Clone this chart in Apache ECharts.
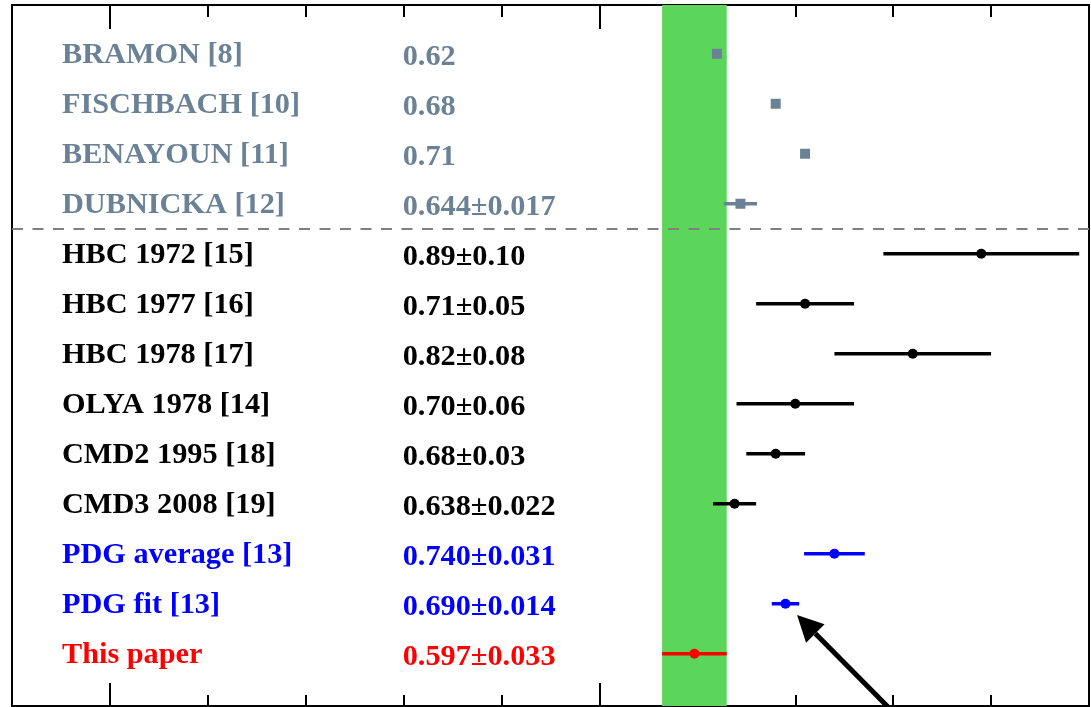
<!DOCTYPE html>
<html>
<head>
<meta charset="utf-8">
<script src="https://cdn.jsdelivr.net/npm/echarts@6/dist/echarts.min.js"></script>
<style>html,body{margin:0;padding:0;background:#fff;}#c{width:1091px;height:707px;}</style>
</head>
<body>
<div id="c"></div>
<script>
// ---- data ----
const names = ['BRAMON [8]', 'FISCHBACH [10]', 'BENAYOUN [11]', 'DUBNICKA [12]',
  'HBC 1972 [15]', 'HBC 1977 [16]', 'HBC 1978 [17]', 'OLYA 1978 [14]',
  'CMD2 1995 [18]', 'CMD3 2008 [19]', 'PDG average [13]', 'PDG fit [13]', 'This paper'];
const values = [0.62, 0.68, 0.71, 0.644, 0.89, 0.71, 0.82, 0.70, 0.68, 0.638, 0.740, 0.690, 0.597];
const errors = [0, 0, 0, 0.017, 0.10, 0.05, 0.08, 0.06, 0.03, 0.022, 0.031, 0.014, 0.033];
const valueLabels = ['0.62', '0.68', '0.71', '0.644\u00b10.017', '0.89\u00b10.10', '0.71\u00b10.05',
  '0.82\u00b10.08', '0.70\u00b10.06', '0.68\u00b10.03', '0.638\u00b10.022', '0.740\u00b10.031',
  '0.690\u00b10.014', '0.597\u00b10.033'];
const groups = ['model', 'model', 'model', 'model', 'exp', 'exp', 'exp', 'exp', 'exp', 'exp', 'pdg', 'pdg', 'this'];
const bandCenter = 0.597, bandHalfWidth = 0.033;
const separatorRow = 3.5;
const xTicksMajor = [0, 0.5];

// ---- styles ----
const groupColor = { model: '#6b8296', exp: '#000000', pdg: '#0000ff', this: '#ff0000' };
const groupSymbol = { model: 'rect', exp: 'circle', pdg: 'circle', this: 'circle' };
const FONT = 'Liberation Serif, Times New Roman, serif';
const labelColX = -0.049, valueColX = 0.299;
const arrowFrom = [0.795, 13.07], arrowTo = [0.7018, 11.225];

const rows = names.map((n, i) => i);

const chart = echarts.init(document.getElementById('c'), null, { renderer: 'canvas' });

const xBase = { type: 'value', min: -0.1, max: 1.0, interval: 0.1, axisLabel: { show: false }, splitLine: { show: false },
  axisLine: { show: true, onZero: false, lineStyle: { color: '#000', width: 2 } } };

const scatterSeries = ['model', 'exp', 'pdg', 'this'].map(g => ({
  type: 'scatter', name: g, xAxisIndex: 0, yAxisIndex: 0, z: 5,
  symbol: groupSymbol[g], symbolSize: g === 'model' ? 10 : 10,
  itemStyle: { color: groupColor[g], opacity: 1 },
  data: rows.filter(i => groups[i] === g).map(i => [values[i], i])
}));

chart.setOption({
  animation: false,
  grid: { left: 12, right: 2, top: 5, bottom: 1, containLabel: false },
  xAxis: [
    Object.assign({}, xBase, { position: 'bottom', axisTick: { show: true, inside: true, length: 11, lineStyle: { color: '#000', width: 2 } } }),
    Object.assign({}, xBase, { position: 'top', axisTick: { show: true, inside: true, length: 12, lineStyle: { color: '#000', width: 2 } } }),
    Object.assign({}, xBase, { position: 'bottom', axisTick: { show: true, inside: true, length: 23, customValues: xTicksMajor, lineStyle: { color: '#000', width: 2 } } }),
    Object.assign({}, xBase, { position: 'top', axisTick: { show: true, inside: true, length: 24, customValues: xTicksMajor, lineStyle: { color: '#000', width: 2 } } })
  ],
  yAxis: [
    { type: 'value', inverse: true, min: -0.975, max: 13.045, position: 'left', axisLabel: { show: false }, axisTick: { show: false }, splitLine: { show: false },
      axisLine: { show: true, onZero: false, lineStyle: { color: '#000', width: 2 } } },
    { type: 'value', inverse: true, min: -0.975, max: 13.045, position: 'right', axisLabel: { show: false }, axisTick: { show: false }, splitLine: { show: false },
      axisLine: { show: true, onZero: false, lineStyle: { color: '#000', width: 2 } } }
  ],
  series: [
    {
      type: 'line', data: [], xAxisIndex: 0, yAxisIndex: 0, z: 1,
      markArea: { silent: true, itemStyle: { color: '#5cd65a', opacity: 1 },
        data: [[{ xAxis: bandCenter - bandHalfWidth, yAxis: -0.975 }, { xAxis: bandCenter + bandHalfWidth, yAxis: 13.045 }]] },
      markLine: { silent: true, symbol: 'none', label: { show: false },
        lineStyle: { color: '#808080', width: 2, type: [11, 9.5] },
        data: [{ yAxis: separatorRow }] }
    },
    {
      type: 'custom', name: 'errorbars', z: 4, xAxisIndex: 0, yAxisIndex: 0,
      data: rows.filter(i => errors[i] > 0).map(i => [values[i] - errors[i], values[i] + errors[i], i]),
      renderItem: function (params, api) {
        const a = api.coord([api.value(0), api.value(2)]);
        const b = api.coord([api.value(1), api.value(2)]);
        const g = groups[api.value(2)];
        return { type: 'line', shape: { x1: a[0], y1: a[1], x2: b[0], y2: b[1] },
          style: { stroke: groupColor[g], lineWidth: 3.5 } };
      }
    },
    ...scatterSeries,
    {
      type: 'custom', name: 'texts', z: 6, clip: false, xAxisIndex: 0, yAxisIndex: 0,
      data: rows.map(i => [i]),
      renderItem: function (params, api) {
        const i = api.value(0);
        const p1 = api.coord([labelColX, i]);
        const p2 = api.coord([valueColX, i]);
        const st = { fill: groupColor[groups[i]], fontFamily: FONT, fontWeight: 'bold', fontSize: 30.3, align: 'left', verticalAlign: 'middle' };
        return { type: 'group', children: [
          { type: 'text', x: p1[0], y: p1[1] + 1, style: Object.assign({ text: names[i] }, st) },
          { type: 'text', x: p2[0], y: p2[1] + 3, style: Object.assign({ text: valueLabels[i] }, st) }
        ] };
      }
    },
    {
      type: 'custom', name: 'arrow', z: 7, clip: false, xAxisIndex: 0, yAxisIndex: 0,
      data: [[arrowFrom[0], arrowFrom[1], arrowTo[0], arrowTo[1]]],
      renderItem: function (params, api) {
        const s = api.coord([api.value(0), api.value(1)]);
        const t = api.coord([api.value(2), api.value(3)]);
        const dx = s[0] - t[0], dy = s[1] - t[1];
        const L = Math.sqrt(dx * dx + dy * dy), ux = dx / L, uy = dy / L;
        const headLen = 26, headHalf = 13;
        const bx = t[0] + ux * headLen, by = t[1] + uy * headLen;
        return { type: 'group', children: [
          { type: 'line', shape: { x1: s[0], y1: s[1], x2: bx, y2: by }, style: { stroke: '#000', lineWidth: 5 } },
          { type: 'polygon', shape: { points: [[t[0], t[1]], [bx - uy * headHalf, by + ux * headHalf], [bx + uy * headHalf, by - ux * headHalf]] },
            style: { fill: '#000' } }
        ] };
      }
    }
  ]
});
</script>
</body>
</html>
